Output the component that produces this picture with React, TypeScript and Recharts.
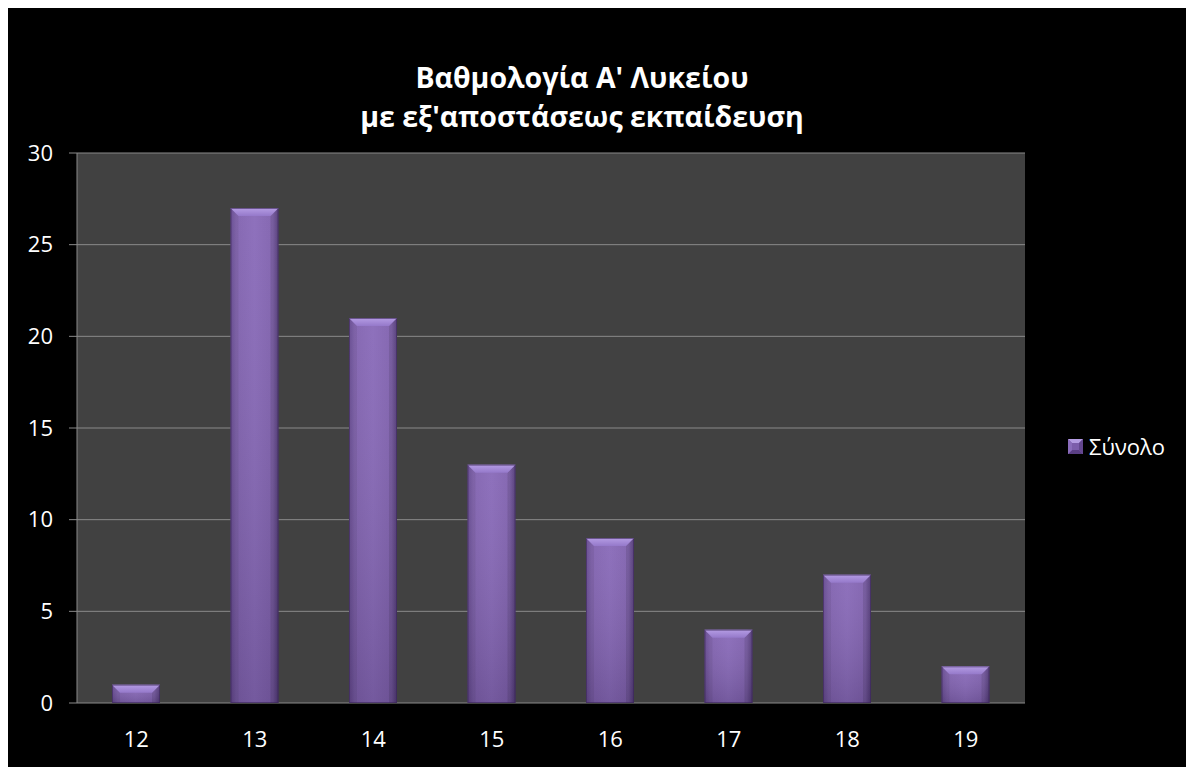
import React from 'react';
import { BarChart, Bar, XAxis, YAxis, CartesianGrid, Legend } from 'recharts';

const categories = ['12', '13', '14', '15', '16', '17', '18', '19'];
const values = [1, 27, 21, 13, 9, 4, 7, 2];
const yTicks = [0, 5, 10, 15, 20, 25, 30];
const seriesName = 'Σύνολο';
const titleLines = ["Βαθμολογία Α' Λυκείου", "με εξ'αποστάσεως εκπαίδευση"];

const data = categories.map((c, i) => ({ grade: c, value: values[i] }));
const numDomain = [Number(categories[0]) - 0.5, Number(categories[categories.length - 1]) + 0.5];
const boundaryTicks = categories.map((c) => Number(c) - 0.5).concat([numDomain[1]]);

const FONT = '"Open Sans", "DejaVu Sans", sans-serif';

function BevelBar(props: any) {
  const { x, y, width, height, index } = props;
  if (!height || height <= 0) return null;
  const b = Math.min(8, height / 2, width / 2);
  const id = `bb${index}`;
  return (
    <g>
      <defs>
        <linearGradient id={`${id}h`} x1="0" y1="0" x2="1" y2="0">
          <stop offset="0" stopColor="#6a4c98" />
          <stop offset="0.12" stopColor="#7f60ae" />
          <stop offset="0.5" stopColor="#8768b8" />
          <stop offset="0.88" stopColor="#7e5fad" />
          <stop offset="1" stopColor="#5a3f84" />
        </linearGradient>
        <linearGradient id={`${id}v`} x1="0" y1="0" x2="0" y2="1">
          <stop offset="0" stopColor="#ffffff" stopOpacity="0.06" />
          <stop offset="1" stopColor="#000000" stopOpacity="0.14" />
        </linearGradient>
        <linearGradient id={`${id}t`} x1="0" y1="0" x2="0" y2="1">
          <stop offset="0" stopColor="#b59de4" />
          <stop offset="1" stopColor="#9579ca" />
        </linearGradient>
      </defs>
      <rect x={x} y={y} width={width} height={height} fill={`url(#${id}h)`} />
      <rect x={x} y={y} width={width} height={height} fill={`url(#${id}v)`} />
      <polygon
        points={`${x},${y} ${x + b},${y + b} ${x + b},${y + height} ${x},${y + height}`}
        fill="#000000"
        fillOpacity={0.06}
      />
      <polygon
        points={`${x + width},${y} ${x + width - b},${y + b} ${x + width - b},${y + height} ${x + width},${y + height}`}
        fill="#000000"
        fillOpacity={0.1}
      />
      <polygon
        points={`${x},${y} ${x + width},${y} ${x + width - b},${y + b} ${x + b},${y + b}`}
        fill={`url(#${id}t)`}
      />
      <rect x={x + 0.5} y={y + 0.5} width={width - 1} height={height - 1} fill="none" stroke="#3a2756" strokeOpacity={0.6} />
    </g>
  );
}

function LegendContent(props: any) {
  const { payload } = props;
  return (
    <div style={{ display: 'flex', flexDirection: 'column' }}>
      {(payload || []).map((entry: any, i: number) => (
        <div key={i} style={{ display: 'flex', alignItems: 'center' }}>
          <svg width={15} height={15} style={{ marginRight: 6 }}>
            <rect x={0} y={0} width={15} height={15} fill="#7c5dab" />
            <polygon points="0,0 15,0 11,4 4,4" fill="#b49ce2" />
            <polygon points="0,15 15,15 11,11 4,11" fill="#5a3f84" />
            <polygon points="15,0 15,15 11,11 11,4" fill="#64478f" />
            <polygon points="0,0 0,15 4,11 4,4" fill="#8a6cbb" />
          </svg>
          <span style={{ color: '#ffffff', fontFamily: FONT, fontSize: 22, lineHeight: '26px' }}>{entry.value}</span>
        </div>
      ))}
    </div>
  );
}

export default function App() {
  return (
    <div style={{ position: 'relative', width: 1186, height: 760, marginTop: -1, background: '#000000' }}>
      <style>{`html,body{overflow:hidden}`}</style>
      <div
        style={{
          position: 'absolute',
          left: 0,
          top: 51,
          width: 1148,
          textAlign: 'center',
          color: '#ffffff',
          fontFamily: FONT,
          fontWeight: 700,
          fontSize: 28.5,
          lineHeight: '39px',
          zIndex: 1,
        }}
      >
        {titleLines.map((t, i) => (
          <div key={i}>{t}</div>
        ))}
      </div>
      <BarChart
        width={1186}
        height={760}
        data={data}
        margin={{ top: 146, right: 169, left: 0, bottom: 0 }}
        style={{ position: 'absolute', left: 0, top: 0 }}
      >
        <CartesianGrid vertical={false} stroke="#8a8a8a" strokeWidth={1} fill="#414141" />
        <XAxis
          xAxisId="num"
          type="number"
          domain={numDomain}
          ticks={boundaryTicks}
          allowDataOverflow
          tick={false}
          height={0}
          axisLine={{ stroke: '#8a8a8a', strokeWidth: 1 }}
          tickLine={{ stroke: '#8a8a8a', strokeWidth: 1 }}
          tickSize={8}
        />
        <XAxis
          xAxisId="cat"
          dataKey="grade"
          type="category"
          height={64}
          axisLine={false}
          tickLine={false}
          tickSize={0}
          tickMargin={28}
          tick={{ fill: '#ffffff', fontFamily: FONT, fontSize: 22 }}
        />
        <YAxis
          domain={[0, 30]}
          ticks={yTicks}
          width={69}
          axisLine={{ stroke: '#8a8a8a', strokeWidth: 1 }}
          tickLine={{ stroke: '#8a8a8a', strokeWidth: 1 }}
          tickSize={8}
          tickMargin={16}
          tick={{ fill: '#ffffff', fontFamily: FONT, fontSize: 22 }}
        />
        <Legend
          layout="horizontal"
          align="center"
          verticalAlign="middle"
          content={<LegendContent />}
          wrapperStyle={{ left: 1060, top: 426, width: 126 }}
        />
        <Bar
          xAxisId="cat"
          dataKey="value"
          name={seriesName}
          barSize={48}
          fill="#7c5dab"
          shape={<BevelBar />}
          isAnimationActive={false}
        />
      </BarChart>
    </div>
  );
}
